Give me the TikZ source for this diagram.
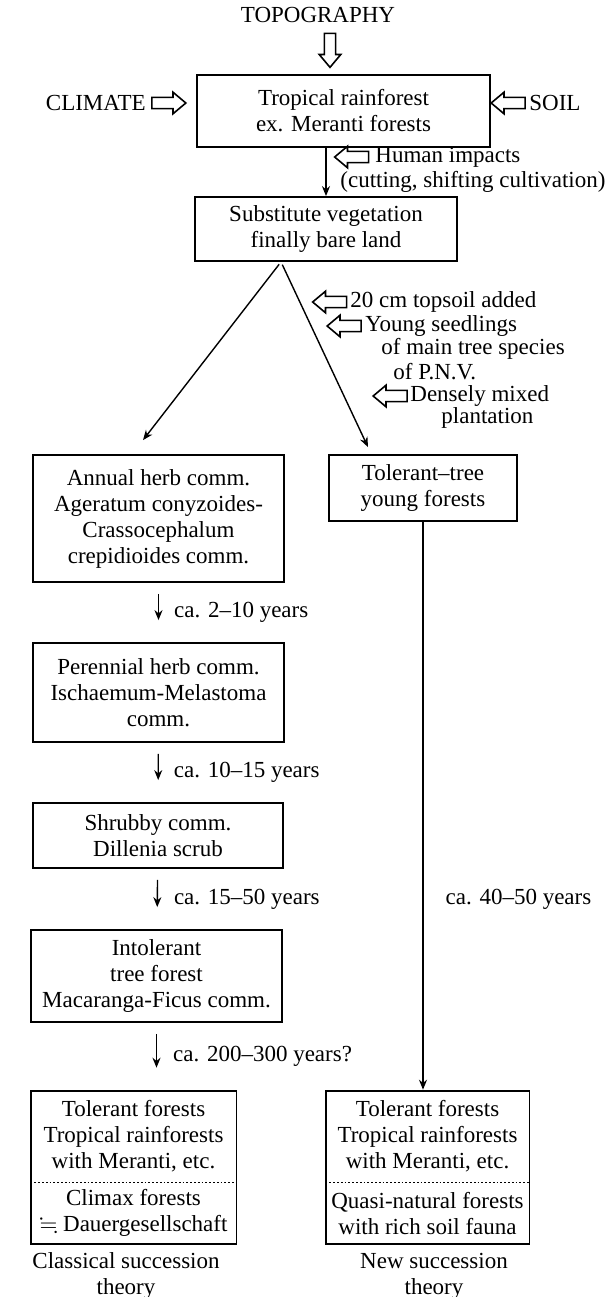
\documentclass[tikz,border=0pt]{standalone}
\usepackage{fontspec}
\usepackage{amssymb}
\setmainfont{Liberation Serif}
\usetikzlibrary{arrows.meta}
\usetikzlibrary{shapes.arrows}
\usetikzlibrary{fit}
\tikzstyle{StageNode}=[rectangle, draw=black, line width=0.9pt, align=center, inner sep=0pt]
\tikzstyle{PartNode}=[align=center, inner sep=0pt, minimum width=102.5pt]
\tikzstyle{NoteNode}=[anchor=west, inner sep=0pt]
\tikzstyle{HollowArrow}=[single arrow, draw=black, line width=0.8pt, minimum height=17pt, inner xsep=0pt, inner ysep=2.4pt, single arrow head extend=2.6pt, single arrow tip angle=80]
\tikzstyle{LeftArrow}=[HollowArrow, shape border rotate=180]
\tikzstyle{DownArrow}=[HollowArrow, rotate=-90]
\tikzstyle{StepEdge}=[-{Stealth[length=5pt, width=4pt]}, line width=0.7pt]
\tikzstyle{YearEdge}=[StepEdge, shorten <=5.5pt, shorten >=11pt]

\begin{document}
\begin{tikzpicture}[x=0.5pt, y=-0.5pt, font=\fontsize{11.5}{13}\selectfont]
\useasboundingbox (0,0) rectangle (612,1297);

% factors around the rainforest
\node (TOPO) at (318,15) {TOPOGRAPHY};
\node[DownArrow] (TOPOarr) at (330,47) {};
\node[StageNode, minimum width=146.5pt, minimum height=36pt] (TRF) at (343.5,111) {Tropical rainforest\\ex. Meranti forests};
\node[anchor=east, inner sep=0pt] (CLIM) at (146,103) {CLIMATE};
\node[HollowArrow] (CLIMarr) at (165.5,103) {};
\node[LeftArrow] (SOILarr) at (511.5,103) {};
\node[NoteNode] (SOIL) at (529,103) {SOIL};

% human impacts
\node[StageNode, minimum width=131pt, minimum height=32pt] (SUB) at (326,229) {Substitute vegetation\\finally bare land};
\draw[StepEdge] (TRF.south -| SUB.north) -- (SUB.north);
\node[LeftArrow] (HUMarr) at (355,157) {};
\node[NoteNode] (HUM) at (375,157) {Human impacts};
\node[NoteNode] (HUMb) at (340,182) {(cutting, shifting cultivation)};

% restoration measures
\node[LeftArrow] (TOParr) at (333,302) {};
\node[NoteNode] (TOP) at (350,302) {20 cm topsoil added};
\node[LeftArrow] (SEEarr) at (347.5,326) {};
\node[NoteNode] (SEE) at (365,326) {Young seedlings};
\node[NoteNode] (SEEb) at (381,349) {of main tree species};
\node[NoteNode] (SEEc) at (393,372) {of P.N.V.};
\node[LeftArrow] (DENarr) at (393.5,396) {};
\node[NoteNode] (DEN) at (410,396) {Densely mixed};
\node[NoteNode] (DENb) at (441,418) {plantation};

% classical succession
\node[StageNode, minimum width=125.5pt, minimum height=63.5pt] (ANN) at (158.5,518.5) {Annual herb comm.\\Ageratum conyzoides-\\Crassocephalum\\crepidioides comm.};
\node[StageNode, minimum width=125.5pt, minimum height=49.5pt] (PER) at (158.5,692.5) {Perennial herb comm.\\Ischaemum-Melastoma\\comm.};
\node[StageNode, minimum width=125pt, minimum height=32.5pt] (SHR) at (158,835.5) {Shrubby comm.\\Dillenia scrub};
\node[StageNode, minimum width=125.5pt, minimum height=46pt] (INT) at (156.5,976) {Intolerant\\tree forest\\Macaranga-Ficus comm.};
\node[PartNode, minimum height=45.5pt] (CLXa) at (133.5,1136.5) {Tolerant forests\\Tropical rainforests\\with Meranti, etc.};
\node[PartNode, minimum height=30.5pt, anchor=north] (CLXb) at (CLXa.south) {Climax forests\\$\fallingdotseq$ Dauergesellschaft};
\node[StageNode, fit=(CLXa)(CLXb)] (CLX) {};
\draw[densely dotted, line width=0.9pt] (CLXa.south west) -- (CLXa.south east);
\node[align=center, inner sep=0pt] (CLXcap) at (126,1276) {Classical succession\\theory};

\draw[YearEdge] (ANN) -- (PER) node[midway, NoteNode, xshift=7.5pt] {ca. 2--10 years};
\draw[YearEdge] (PER) -- (SHR) node[midway, NoteNode, xshift=7.5pt] {ca. 10--15 years};
\draw[YearEdge] (SHR) -- (INT) node[midway, NoteNode, xshift=8pt] {ca. 15--50 years};
\draw[YearEdge] (INT.south) -- (INT.south |- CLX.north) node[midway, NoteNode, xshift=8pt] {ca. 200--300 years?};

% new succession
\node[StageNode, minimum width=94pt, minimum height=33pt] (TOL) at (423,488) {Tolerant--tree\\young forests};
\node[PartNode, minimum width=101.5pt, minimum height=45.5pt] (QNFa) at (427.5,1136.5) {Tolerant forests\\Tropical rainforests\\with Meranti, etc.};
\node[PartNode, minimum width=101.5pt, minimum height=30.5pt, anchor=north] (QNFb) at (QNFa.south) {Quasi-natural forests\\with rich soil fauna};
\node[StageNode, fit=(QNFa)(QNFb)] (QNF) {};
\draw[densely dotted, line width=0.9pt] (QNFa.south west) -- (QNFa.south east);
\node[align=center, inner sep=0pt] (QNFcap) at (434,1276) {New succession\\theory};

\draw[StepEdge] (TOL.south) -- (TOL.south |- QNF.north) node[pos=0.664, NoteNode, xshift=11pt] {ca. 40--50 years};
\draw[StepEdge, shorten <=1.5pt] ([xshift=-22.5pt]SUB.south) -- ([xshift=-7.75pt, yshift=7pt]ANN.north);
\draw[StepEdge, shorten <=1.5pt] ([xshift=-22.5pt]SUB.south) -- ([xshift=-27.5pt, yshift=3.5pt]TOL.north);
\end{tikzpicture}
\end{document}
